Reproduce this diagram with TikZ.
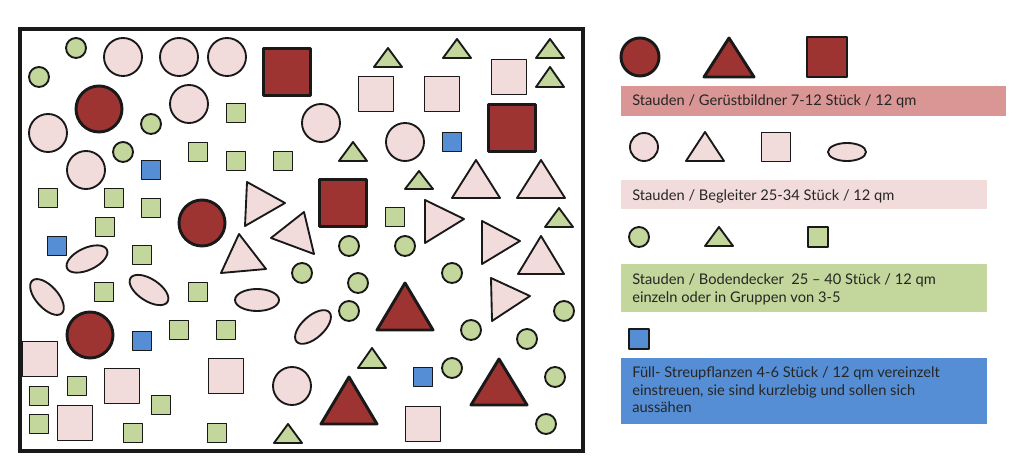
\documentclass[tikz,border=0pt]{standalone}
\usepackage{fontspec}
\setmainfont{Lato}
\definecolor{dredF}{RGB}{158,52,50}
\definecolor{pinkF}{RGB}{242,220,219}
\definecolor{greenF}{RGB}{195,214,155}
\definecolor{blueF}{RGB}{85,142,213}
\definecolor{redBar}{RGB}{217,150,148}
\definecolor{lineC}{RGB}{25,25,25}
\newcommand\shpSq[4]{\draw[#1] ({#2-#4/2},{#3-#4/2}) rectangle ({#2+#4/2},{#3+#4/2});}
\newcommand\shpCi[4]{\draw[#1] (#2,#3) circle (#4);}
\newcommand\shpTr[5]{\draw[#1] ({#2-#5},#4) -- (#2,#3) -- ({#2+#5},#4) -- cycle;}
\newcommand\shpEl[6]{\draw[#1] (#2,#3) ellipse [x radius=#4, y radius=#5, rotate=#6];}
\begin{document}
\begin{tikzpicture}[x=0.75pt,y=-0.75pt,
  shp/.style={draw=lineC, line width=1.4pt, line join=round},
  rd/.style={shp, fill=dredF, line width=2.2pt},
  pk/.style={shp, fill=pinkF},
  gr/.style={shp, fill=greenF},
  bl/.style={shp, fill=blueF},
  legtxt/.style={anchor=base west, inner sep=0pt, text=black!85, font=\fontsize{11}{13}\selectfont}]
\useasboundingbox (0,0) rectangle (1024,473);
\fill[white] (0,0) rectangle (1024,473);
% frame
\draw[line width=3pt, draw=lineC] (20,29) rectangle (583,451);
% dark red
\shpCi{rd}{99}{109}{23}
\shpCi{rd}{202}{223}{23}
\shpCi{rd}{90}{335}{23}
\shpSq{rd}{287}{72}{47}
\shpSq{rd}{343}{203}{47}
\shpSq{rd}{512}{128}{47}
\shpTr{rd}{405}{283}{330}{28}
\shpTr{rd}{349}{377}{424}{28}
\shpTr{rd}{499}{359}{405}{28}
% pink circles
\foreach \x/\y in {123/57,179/57,227/57,189/104,48/133,86/170,321/123,405/142,292/386}
  {\shpCi{pk}{\x}{\y}{19}}
% pink squares
\foreach \x/\y in {376/94,442/94,509/77,40/359,122/386,75/423,226/376,423/424}
  {\shpSq{pk}{\x}{\y}{35}}
% pink triangles
\shpTr{pk}{476}{160}{198}{24}
\shpTr{pk}{541}{160}{198}{24}
\shpTr{pk}{541}{236}{274}{23}
\draw[pk] (247,182) -- (285,203) -- (245,226) -- cycle;
\draw[pk] (304,212) -- (314,254) -- (271,238) -- cycle;
\draw[pk] (239,234) -- (266,269) -- (221,273) -- cycle;
\draw[pk] (425,200) -- (464,219) -- (425,243) -- cycle;
\draw[pk] (482,221) -- (520,241) -- (482,264) -- cycle;
\draw[pk] (491,278) -- (530,296) -- (492,321) -- cycle;
% pink ellipses
\shpEl{pk}{87}{259}{22}{11}{25}
\shpEl{pk}{47}{297}{22}{11}{-48}
\shpEl{pk}{149}{290}{22}{11}{-33}
\shpEl{pk}{257}{300}{22}{11}{0}
\shpEl{pk}{313}{327}{22}{11}{42}
% green circles
\foreach \x/\y in {76/48,39/77,151/124,123/152,349/246,405/246,302/273,452/273,358/283,349/311,471/330,564/311,527/339,452/368,555/377,546/424}
  {\shpCi{gr}{\x}{\y}{10}}
% green squares
\foreach \x/\y in {198/152,236/113,236/161,283/161,48/198,114/198,151/208,105/227,142/255,104/292,198/292,395/217,179/330,226/330,77/386,39/396,161/405,39/424,133/433,217/433}
  {\shpSq{gr}{\x}{\y}{19}}
% green triangles
\foreach \x/\a/\b in {388/48/67,457/39/58,550/39/58,550/67/87,353/142/161,419/171/189,559/208/227,372/348/368,288/424/443}
  {\shpTr{gr}{\x}{\a}{\b}{14}}
% blue squares
\foreach \x/\y in {151/170,57/246,142/341,452/142,423/377}
  {\shpSq{bl}{\x}{\y}{19}}
% ===== legend =====
\shpCi{rd}{640}{57}{19}
\shpTr{rd}{729}{38}{77}{25}
\shpSq{rd}{827}{57}{40}
\fill[redBar] (621,86) rectangle (1006,116);
\node[legtxt] (t1) at (632,106) {Stauden / Gerüstbildner 7-12 Stück / 12 qm};
\shpCi{pk}{644}{147}{14}
\shpTr{pk}{705}{132}{161}{19}
\shpSq{pk}{776}{147}{29}
\shpEl{pk}{847}{152}{19}{9}{0}
\fill[pinkF] (621,180) rectangle (987,209);
\node[legtxt] (t2) at (632,201) {Stauden / Begleiter 25-34 Stück / 12 qm};
\shpCi{gr}{639}{237}{10}
\shpTr{gr}{719}{227}{246}{14}
\shpSq{gr}{818}{237}{20}
\fill[greenF] (621,264) rectangle (987,312);
\node[legtxt] (t3a) at (632,285) {Stauden / Bodendecker\ \ 25 – 40 Stück / 12 qm};
\node[legtxt] (t3b) at (632,303) {einzeln oder in Gruppen von 3-5};
\shpSq{bl}{639}{339}{20}
\fill[blueF] (621,358) rectangle (987,424);
\node[legtxt] (t4a) at (632,378) {Füll- Streupflanzen 4-6 Stück / 12 qm vereinzelt};
\node[legtxt] (t4b) at (632,396) {einstreuen, sie sind kurzlebig und sollen sich};
\node[legtxt] (t4c) at (632,413) {aussähen};
\end{tikzpicture}
\end{document}
